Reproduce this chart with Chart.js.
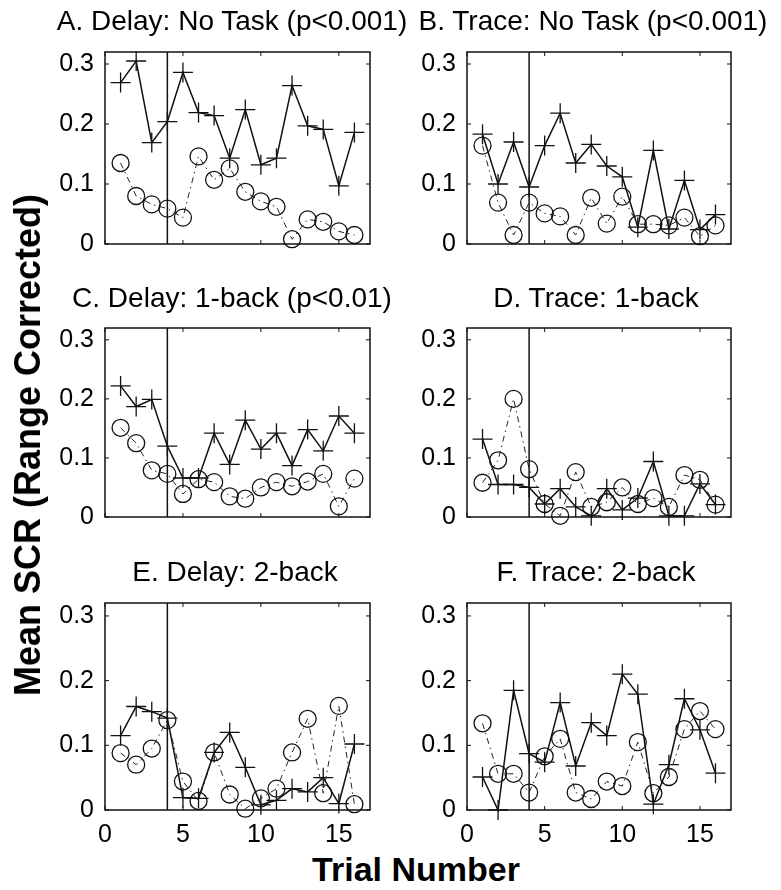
<!DOCTYPE html>
<html>
<head>
<meta charset="utf-8">
<script src="https://cdn.jsdelivr.net/npm/chart.js@4.4.0/dist/chart.umd.min.js"></script>
<style>
body { margin: 0; background: #fff; width: 781px; height: 890px; position: relative; overflow: hidden;
       font-family: "Liberation Sans", Arial, sans-serif; color: #000; }
canvas { position: absolute; }
.lab { position: absolute; white-space: nowrap; line-height: 1; transform: translate(-50%, -50%); }
.ttl { font-size: 28px; }
#ylab { left: 28px; top: 445px; transform: translate(-50%, -50%) rotate(-90deg); font-weight: bold; font-size: 36px; }
#xlab { left: 416px; top: 869px; font-weight: bold; font-size: 34px; }
</style>
</head>
<body>
<canvas id="cA" width="390" height="270" style="left:0;top:0"></canvas>
<canvas id="cB" width="391" height="270" style="left:390px;top:0"></canvas>
<canvas id="cC" width="390" height="267" style="left:0;top:276px"></canvas>
<canvas id="cD" width="391" height="267" style="left:390px;top:276px"></canvas>
<canvas id="cE" width="390" height="299" style="left:0;top:551px"></canvas>
<canvas id="cF" width="391" height="299" style="left:390px;top:551px"></canvas>
<div class="lab ttl" id="tA" style="left:232px;top:21px"></div>
<div class="lab ttl" id="tB" style="left:593px;top:21px"></div>
<div class="lab ttl" id="tC" style="left:232px;top:298px"></div>
<div class="lab ttl" id="tD" style="left:596px;top:298px"></div>
<div class="lab ttl" id="tE" style="left:235px;top:572px"></div>
<div class="lab ttl" id="tF" style="left:596px;top:572px"></div>
<div class="lab" id="ylab">Mean SCR (Range Corrected)</div>
<div class="lab" id="xlab">Trial Number</div>
<script>
// trials and tick labels
var trials = [1, 2, 3, 4, 5, 6, 7, 8, 9, 10, 11, 12, 13, 14, 15, 16];
var xTicks = [0, 5, 10, 15];
var yTicks = [0, 0.1, 0.2, 0.3];
var boundaryTrial = 4;

// "+" series (solid) and "o" series (dash-dot)
var plusA = [0.269, 0.305, 0.169, 0.204, 0.286, 0.219, 0.214, 0.143, 0.224, 0.132, 0.143, 0.264, 0.197, 0.191, 0.097, 0.186];
var circA = [0.135, 0.080, 0.066, 0.059, 0.044, 0.146, 0.107, 0.126, 0.087, 0.071, 0.062, 0.008, 0.041, 0.037, 0.021, 0.015];
var plusB = [0.183, 0.100, 0.170, 0.095, 0.164, 0.218, 0.135, 0.166, 0.130, 0.112, 0.028, 0.156, 0.025, 0.106, 0.024, 0.049];
var circB = [0.164, 0.069, 0.015, 0.069, 0.051, 0.046, 0.015, 0.077, 0.034, 0.079, 0.033, 0.033, 0.031, 0.044, 0.013, 0.031];
var plusC = [0.222, 0.187, 0.199, 0.120, 0.066, 0.066, 0.142, 0.089, 0.164, 0.115, 0.142, 0.087, 0.148, 0.112, 0.171, 0.142];
var circC = [0.151, 0.125, 0.079, 0.073, 0.039, 0.064, 0.059, 0.035, 0.031, 0.050, 0.059, 0.052, 0.060, 0.073, 0.018, 0.065];
var plusD = [0.132, 0.055, 0.055, 0.050, 0.022, 0.048, 0.017, 0.002, 0.048, 0.012, 0.032, 0.094, 0.002, 0.002, 0.056, 0.021];
var circD = [0.058, 0.096, 0.200, 0.081, 0.022, 0.002, 0.076, 0.017, 0.025, 0.050, 0.022, 0.032, 0.017, 0.071, 0.063, 0.021];
var plusE = [0.115, 0.160, 0.152, 0.142, 0.019, 0.018, 0.089, 0.120, 0.066, 0.008, 0.015, 0.033, 0.028, 0.050, 0.010, 0.102];
var circE = [0.088, 0.070, 0.095, 0.139, 0.044, 0.014, 0.089, 0.024, 0.002, 0.018, 0.033, 0.089, 0.141, 0.026, 0.161, 0.009];
var plusF = [0.051, 0.000, 0.185, 0.087, 0.074, 0.166, 0.068, 0.135, 0.115, 0.210, 0.179, 0.009, 0.070, 0.172, 0.124, 0.057];
var circF = [0.134, 0.056, 0.056, 0.027, 0.083, 0.110, 0.027, 0.017, 0.044, 0.037, 0.105, 0.026, 0.051, 0.125, 0.153, 0.125];

var titles = {
    A: 'A. Delay: No Task (p<0.001)',
    B: 'B. Trace: No Task (p<0.001)',
    C: 'C. Delay: 1-back (p<0.01)',
    D: 'D. Trace: 1-back',
    E: 'E. Delay: 2-back',
    F: 'F. Trace: 2-back'
};

var FONT = '"Liberation Sans", Arial, sans-serif';
var INK = '#111';

// box round the plot plus inward tick marks on all four sides
var boxPlugin = {
    id: 'box',
    afterDatasetsDraw: function(chart) {
        var ctx = chart.ctx, a = chart.chartArea, x = chart.scales.x, y = chart.scales.y;
        ctx.save();
        ctx.strokeStyle = INK;
        ctx.lineWidth = 1.5;
        ctx.strokeRect(a.left, a.top, a.right - a.left, a.bottom - a.top);
        ctx.lineWidth = 1;
        ctx.beginPath();
        xTicks.forEach(function(v) {
            var px = x.getPixelForValue(v);
            ctx.moveTo(px, a.bottom); ctx.lineTo(px, a.bottom - 4);
            ctx.moveTo(px, a.top); ctx.lineTo(px, a.top + 4);
        });
        yTicks.forEach(function(v) {
            var py = y.getPixelForValue(v);
            ctx.moveTo(a.left, py); ctx.lineTo(a.left + 4, py);
            ctx.moveTo(a.right, py); ctx.lineTo(a.right - 4, py);
        });
        ctx.stroke();
        ctx.restore();
    }
};

function pts(vals) {
    return trials.map(function(t, i) { return {x: t, y: vals[i]}; });
}

function makePanel(id, plus, circ, col, bottomRow) {
    var left = col === 0;
    document.getElementById('t' + id).textContent = titles[id];
    new Chart(document.getElementById('c' + id), {
        type: 'line',
        data: {
            datasets: [{
                data: [{x: boundaryTrial, y: 0}, {x: boundaryTrial, y: 0.32}],
                borderColor: INK, borderWidth: 1.5, pointRadius: 0
            }, {
                data: pts(circ),
                borderColor: '#222', borderWidth: 1, borderDash: [6, 4, 1.5, 4],
                pointStyle: 'circle', pointRadius: 8.5, pointBorderWidth: 1.3,
                pointBorderColor: INK, pointBackgroundColor: 'rgba(0,0,0,0)', clip: false
            }, {
                data: pts(plus),
                borderColor: INK, borderWidth: 1.5,
                pointStyle: 'cross', pointRadius: 10, pointBorderWidth: 1.3,
                pointBorderColor: INK, clip: false
            }]
        },
        options: {
            responsive: false,
            animation: false,
            layout: { padding: { left: left ? 50 : 22, right: left ? 20 : 50, top: 52, bottom: bottomRow ? 0 : 8 } },
            plugins: {
                legend: { display: false },
                tooltip: { enabled: false },
                title: { display: false }
            },
            scales: {
                x: {
                    type: 'linear', min: 0, max: 17,
                    grid: { display: false, drawTicks: false },
                    border: { display: false },
                    afterBuildTicks: function(s) { s.ticks = xTicks.map(function(v) { return {value: v}; }); },
                    afterFit: function(s) { s.height = bottomRow ? 40 : 0; },
                    ticks: { display: bottomRow, color: '#000', padding: 10, maxRotation: 0,
                             font: { family: FONT, size: 25 } }
                },
                y: {
                    min: 0, max: 0.32,
                    grid: { display: false, drawTicks: false },
                    border: { display: false },
                    afterBuildTicks: function(s) { s.ticks = yTicks.map(function(v) { return {value: v}; }); },
                    afterFit: function(s) { s.width = 55; },
                    ticks: { color: '#000', padding: 11, font: { family: FONT, size: 25 },
                             callback: function(v) { return v === 0 ? '0' : v.toFixed(1); } }
                }
            }
        },
        plugins: [boxPlugin]
    });
}

makePanel('A', plusA, circA, 0, false);
makePanel('B', plusB, circB, 1, false);
makePanel('C', plusC, circC, 0, false);
makePanel('D', plusD, circD, 1, false);
makePanel('E', plusE, circE, 0, true);
makePanel('F', plusF, circF, 1, true);
</script>
</body>
</html>
